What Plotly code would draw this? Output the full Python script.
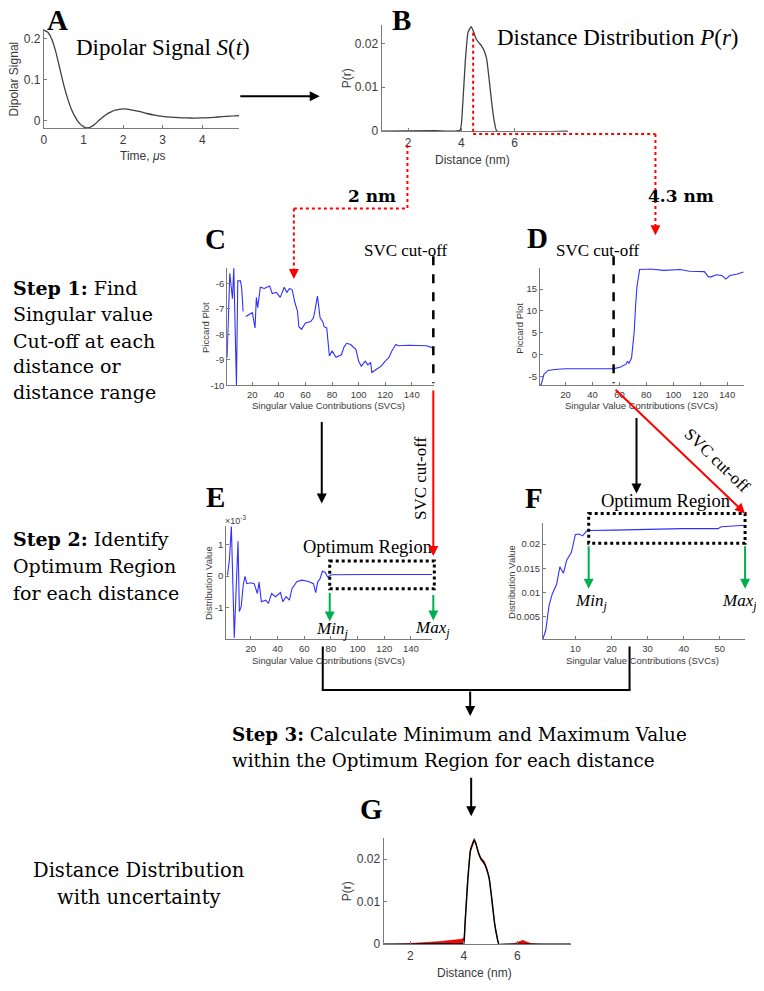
import plotly.graph_objects as go

# The page body has an 8px default margin, so the figure is drawn 8px in from the corner.
OFF = 8
W, H = 764 - OFF, 991 - OFF

# ---------------- data ----------------
# Panel A: dipolar signal S(t)
A_time = [0, 0.1, 0.2, 0.3, 0.4, 0.5, 0.6, 0.7, 0.8, 0.9, 1.0, 1.1, 1.2, 1.3, 1.4, 1.5,
          1.6, 1.7, 1.8, 1.9, 2.0, 2.1, 2.2, 2.4, 2.6, 2.8, 3.0, 3.2, 3.4, 3.6, 3.8, 4.0,
          4.2, 4.4, 4.6, 4.8, 4.93]
A_signal = [0.22, 0.215, 0.198, 0.168, 0.128, 0.088, 0.054, 0.027, 0.008, -0.006, -0.014,
            -0.017, -0.014, -0.007, 0.002, 0.010, 0.017, 0.022, 0.026, 0.028, 0.029, 0.0285,
            0.027, 0.023, 0.018, 0.014, 0.011, 0.009, 0.0078, 0.0072, 0.007, 0.0072, 0.0082,
            0.0095, 0.011, 0.012, 0.013]

# Panel B: distance distribution P(r)
B_r = [1.0, 3.0, 3.95, 4.05, 4.15, 4.25, 4.37, 4.45, 4.55, 4.65, 4.75, 4.85, 4.95, 5.05,
       5.15, 5.25, 5.33, 8.0]
B_p = [0, 0.0001, 0.0002, 0.006, 0.016, 0.0225, 0.0238, 0.0228, 0.0211, 0.0202, 0.0195,
       0.0184, 0.0165, 0.0115, 0.006, 0.0018, 0.0, 0.0]

# Panel C: Piccard plot at 2 nm
C_svc = [1, 3, 5, 6, 8, 9, 11, 12, 13, None, 15, 19, 20, 22, 23, 24, 26, 29, 33, 35, 38, 41,
         44, 46, 48, 50, 52, 54, 55, 57, 60, 64, 66, 67, 69, 71, 73, 74, 76, 78, 80, 83, 87,
         89, 91, 94, 98, 100, 102, 105, 107, 109, 110, 114, 117, 120, 123, 125, 128, 130,
         138, 151, 157]
C_val = [-8.9, -5.6, -6.6, -5.4, -10, -5.9, -5.9, -6.2, -7.1, None, -7.3, -7.2, -7.15,
         -7.75, -6.55, -6.95, -6.15, -6.2, -6.1, -6.4, -6.35, -6.55, -6.15, -6.35, -6.2,
         -6.25, -6.75, -7.1, -7.7, -7.8, -7.55, -7.5, -7.35, -7.1, -6.5, -7.35, -7.5, -7.7,
         -7.75, -8.85, -8.65, -8.9, -8.8, -8.5, -8.35, -8.4, -8.6, -9.05, -9.25, -9.05,
         -9.2, -9.1, -9.5, -9.35, -9.25, -9.05, -8.9, -8.65, -8.4, -8.45, -8.43, -8.45, -8.55]

# Panel D: Piccard plot at 4.3 nm
D_svc = [1, 2, 4, 7, 12, 20, 40, 56, 61, 65, 66, 67, 69, 71, 72, 73, 75, 83, 93, 105, 112,
         123, 126, 128, 132, 136, 139, 142, 147, 152]
D_val = [-7.0, -6.8, -4.5, -3.6, -3.4, -3.2, -3.2, -3.18, -2.8, -2.1, -1.5, -2.0, -0.75,
         5.3, 11.2, 15.5, 19.5, 19.6, 19.3, 19.5, 19.1, 19.0, 17.8, 17.8, 18.3, 18.1, 17.3,
         18.1, 18.4, 18.9]

# Panel E: distribution value vs SVCs at 2 nm
E_svc = [2.5, 4, 5.4, 6.4, 7.6, 8.9, 10.4, 11.4, 12.8, 14.3, 15.6, 17, 20, 22.5, 23.7, 24.9,
         26.2, 27.9, 31.1, 33.1, 35.6, 38.5, 42.2, 44, 46.4, 48.9, 50.9, 54.6, 58.3, 63.2,
         66.9, 68.6, 70.1, 71.9, 73.6, 75.6, 77.5, 80.5, 108, 130, 156]
E_val = [0.00002, 0.00054, 0.00157, 0.0, -0.00195, -0.0005, 0.0011, -0.00112, -0.00096,
         -0.00029, -0.00001, -0.00024, -0.00021, -0.00024, -0.00039, -0.00055, -0.00019,
         -0.00081, -0.00076, -0.00086, -0.00055, -0.00065, -0.00052, -0.00081, -0.00065,
         -0.00076, -0.00039, -0.00017, -0.00013, -0.00017, -0.00024, -0.00052, -0.00019,
         -0.00008, 0.00015, 0.00012, -0.00003, 0.00004, 0.00005, 0.00005, 0.00005]

# Panel F: distribution value vs SVCs at 4.3 nm
F_svc = [1, 1.8, 2.7, 3.6, 4.8, 5.7, 6.7, 7.6, 8.9, 10, 11, 12, 13.1, 14, 20.7, 30.1, 39.6,
         49.5, 50.4, 57]
F_val = [0.0004, 0.0022, 0.0073, 0.0097, 0.0117, 0.0153, 0.0140, 0.0167, 0.0183, 0.0220,
         0.0221, 0.0217, 0.0227, 0.0228, 0.0229, 0.0231, 0.0232, 0.0232, 0.0236, 0.0239]

# Panel G: distance distribution with uncertainty
G_r = [1.0, 2.0, 3.0, 3.9, 4.0, 4.05, 4.15, 4.25, 4.39, 4.45, 4.55, 4.65, 4.75, 4.85, 4.95,
       5.05, 5.15, 5.25, 5.31, 5.6, 5.9, 6.2, 6.5, 7.0, 8.0]
G_mean = [0, 0, 0.0001, 0.0001, 0.0002, 0.005, 0.015, 0.022, 0.0245, 0.0237, 0.0215, 0.0200,
          0.0192, 0.0178, 0.0155, 0.0105, 0.005, 0.0015, 0.0, 0, 0, 0, 0, 0, 0]
G_upper = [0, 0.0002, 0.0006, 0.0012, 0.0014, 0.0055, 0.0155, 0.0225, 0.0249, 0.0240, 0.0217,
           0.0203, 0.0197, 0.0182, 0.0157, 0.0107, 0.0052, 0.0016, 0.0, 0, 0.0002, 0.0009,
           0.0002, 0, 0]
G_lower = [0, 0, 0, 0, 0, 0.0048, 0.0148, 0.0218, 0.0242, 0.0235, 0.0213, 0.0198, 0.0189,
           0.0175, 0.0153, 0.0103, 0.0048, 0.0013, 0.0, 0, 0, 0, 0, 0, 0]

# ---------------- styling ----------------
SERIF = "Liberation Serif, Times New Roman, serif"
GEO = "DejaVu Serif, Georgia, serif"
SANS = "Liberation Sans, Arial, Helvetica, sans-serif"
AXC = "#7a7a7a"
TXT = "#3a3a3a"
BLUE = "#3030ff"
RED = "#ff0000"
GREEN = "#00b050"

fig = go.Figure()
layout = dict(width=W, height=H, margin=dict(l=0, r=0, t=0, b=0), paper_bgcolor="white",
              plot_bgcolor="rgba(0,0,0,0)", showlegend=False)


def PX(x):
    return (x - OFF) / W


def PY(y):
    return 1 - (y - OFF) / H


def P(x, y):
    return PX(x), PY(y)


def add_axes(i, x0, x1, ytop, ybot, xr, yr, xt, yt, fs, ytext=None):
    key = "" if i == 1 else str(i)
    common = dict(showline=True, linecolor=AXC, linewidth=1, ticks="inside", ticklen=3,
                  tickcolor=AXC, tickwidth=1, showgrid=False, zeroline=False,
                  tickfont=dict(family=SANS, size=fs, color=TXT))
    layout["xaxis" + key] = dict(domain=[PX(x0), PX(x1)], anchor="y" + key, range=xr,
                                 tickvals=xt, **common)
    ya = dict(domain=[PY(ybot), PY(ytop)], anchor="x" + key, range=yr, tickvals=yt,
              **common)
    if ytext is not None:
        ya["ticktext"] = ytext
    layout["yaxis" + key] = ya
    return "x" + key, "y" + key


ax = add_axes(1, 41, 237, 29.5, 129, [0, 4.93], [-0.0175, 0.222], [0, 1, 2, 3, 4],
              [0, 0.1, 0.2], 12, ["0", "0.1", "0.2"])
bx = add_axes(2, 380, 567, 25, 132, [1, 8], [0, 0.0242], [2, 4, 6], [0, 0.01, 0.02], 12,
              ["0", "0.01", "0.02"])
cx = add_axes(3, 225, 433, 270, 388, [1, 157], [-10, -5.4], [20, 40, 60, 80, 100, 120, 140],
              [-10, -9, -8, -7, -6], 9.5, ["-10", "-9", "-8", "-7", "-6"])
dx = add_axes(4, 539, 744, 270, 388, [1, 152.5], [-7, 19.8], [20, 40, 60, 80, 100, 120, 140],
              [-5, 0, 5, 10, 15], 9.5, ["-5", "0", "5", "10", "15"])
ex = add_axes(5, 224, 431, 530, 644, [1.5, 156], [-0.002, 0.00157],
              [20, 40, 60, 80, 100, 120, 140], [-0.001, 0, 0.001], 9.5, ["-1", "0", "1"])
fx = add_axes(6, 542, 745, 527, 644, [1, 57], [0.0003, 0.0243], [10, 20, 30, 40, 50],
              [0.005, 0.01, 0.015, 0.02], 9.5, ["0.005", "0.01", "0.015", "0.02"])
gx = add_axes(7, 382, 570, 844, 951, [1, 8], [0, 0.025], [2, 4, 6], [0, 0.01, 0.02], 12,
              ["0", "0.01", "0.02"])

fig.add_trace(go.Scatter(x=A_time, y=A_signal, xaxis=ax[0], yaxis=ax[1], mode="lines",
                         line=dict(color="#404040", width=1.3, shape="spline", smoothing=0.6)))
fig.add_trace(go.Scatter(x=B_r, y=B_p, xaxis=bx[0], yaxis=bx[1], mode="lines",
                         line=dict(color="#404040", width=1.3, shape="spline", smoothing=0.4)))
fig.add_trace(go.Scatter(x=C_svc, y=C_val, xaxis=cx[0], yaxis=cx[1], mode="lines",
                         line=dict(color=BLUE, width=1.1), connectgaps=False))
fig.add_trace(go.Scatter(x=D_svc, y=D_val, xaxis=dx[0], yaxis=dx[1], mode="lines",
                         line=dict(color=BLUE, width=1.1)))
fig.add_trace(go.Scatter(x=E_svc, y=E_val, xaxis=ex[0], yaxis=ex[1], mode="lines",
                         line=dict(color=BLUE, width=1.1)))
fig.add_trace(go.Scatter(x=F_svc, y=F_val, xaxis=fx[0], yaxis=fx[1], mode="lines",
                         line=dict(color=BLUE, width=1.1)))
fig.add_trace(go.Scatter(x=G_r, y=G_lower, xaxis=gx[0], yaxis=gx[1], mode="lines",
                         line=dict(color="rgba(0,0,0,0)", width=0, shape="spline", smoothing=0.3)))
fig.add_trace(go.Scatter(x=G_r, y=G_upper, xaxis=gx[0], yaxis=gx[1], mode="lines",
                         fill="tonexty", fillcolor=RED,
                         line=dict(color="#b00000", width=0.6, shape="spline", smoothing=0.3)))
fig.add_trace(go.Scatter(x=G_r, y=G_mean, xaxis=gx[0], yaxis=gx[1], mode="lines",
                         line=dict(color="black", width=1.5, shape="spline", smoothing=0.3)))

# ---------------- annotations ----------------
ann = []


def text(x, y, s, size, family=SERIF, color="black", xanchor="center", angle=0):
    px_, py_ = P(x, y)
    ann.append(dict(x=px_, y=py_, xref="paper", yref="paper", text=s, showarrow=False,
                    xanchor=xanchor, yanchor="middle", textangle=angle,
                    font=dict(family=family, size=size, color=color)))


def arrow(hx, hy, tx, ty, color, width=2, head=2, size=1.0):
    px_, py_ = P(hx, hy)
    ann.append(dict(x=px_, y=py_, xref="paper", yref="paper", text="", showarrow=True,
                    ax=tx - hx, ay=ty - hy, arrowhead=head, arrowsize=size,
                    arrowwidth=width, arrowcolor=color))


# panel letters
for lx, ly, L in [(55, 20, "A"), (400, 20, "B"), (213, 241, "C"), (537, 240, "D"),
                  (213, 501, "E"), (533, 502, "F"), (370, 815, "G")]:
    text(lx, ly, "<b>%s</b>" % L, 29)

# titles
text(71, 48, "Dipolar Signal <i>S</i>(<i>t</i>)", 23, xanchor="left")
text(494, 38, "Distance Distribution <i>P</i>(<i>r</i>)", 23, xanchor="left")

# axis titles
for x, y, s, fs in [(12, 79, "Dipolar Signal", 12), (346, 79, "P(r)", 12),
                    (203, 330, "Piccard Plot", 9.5), (519, 330, "Piccard Plot", 9.5),
                    (207, 587, "Distribution Value", 9.5), (511, 586, "Distribution Value", 9.5),
                    (345, 898, "P(r)", 12)]:
    text(x, y, s, fs, family=SANS, color=TXT, angle=-90)
for x, y, s, fs in [(140, 157, "Time, <i>μ</i>s", 12), (471, 161, "Distance (nm)", 12),
                    (327, 408, "Singular Value Contributions (SVCs)", 9.5),
                    (641, 408, "Singular Value Contributions (SVCs)", 9.5),
                    (327, 665, "Singular Value Contributions (SVCs)", 9.5),
                    (642, 665, "Singular Value Contributions (SVCs)", 9.5),
                    (473, 980, "Distance (nm)", 12)]:
    text(x, y, s, fs, family=SANS, color=TXT)
text(233, 524, "×10<sup>-3</sup>", 9, family=SANS, color=TXT)

# step texts
for y, s in [(290, "<b>Step 1:</b> Find"), (316, "Singular value"), (343, "Cut-off at each"),
             (369, "distance or"), (395, "distance range")]:
    text(8, y, s, 19, family=GEO, xanchor="left")
for y, s in [(543, "<b>Step 2:</b> Identify"), (570, "Optimum Region"),
             (597, "for each distance")]:
    text(8, y, s, 19, family=GEO, xanchor="left")
text(228, 740, "<b>Step 3:</b> Calculate Minimum and Maximum Value", 18.3, family=GEO,
     xanchor="left")
text(228, 766, "within the Optimum Region for each distance", 18.3, family=GEO, xanchor="left")
text(137, 877, "Distance Distribution", 19.5, family=GEO)
text(137, 904, "with uncertainty", 19.5, family=GEO)

# labels on the flow
text(370, 197, "<b>2 nm</b>", 17, family=GEO)
text(681, 197, "<b>4.3 nm</b>", 17, family=GEO)
text(405, 252, "SVC cut-off", 17)
text(597, 252, "SVC cut-off", 17)
text(419, 481, "SVC cut-off", 17, angle=-90)
text(717, 464, "SVC cut-off", 17, angle=44)
text(366, 551, "Optimum Region", 18.5)
text(665, 505, "Optimum Region", 18.5)
for x, y, s in [(330, 634, "<i>Min</i><sub><i>j</i></sub>"), (431, 633, "<i>Max</i><sub><i>j</i></sub>"),
                (590, 606, "<i>Min</i><sub><i>j</i></sub>"), (739, 606, "<i>Max</i><sub><i>j</i></sub>")]:
    text(x, y, s, 17)

# arrows
arrow(318, 97, 237, 97, "black")
arrow(292, 281, 292, 271, RED, width=2)
arrow(655, 237, 655, 227, RED, width=2)
arrow(320, 507, 320, 424, "black")
arrow(636, 497, 636, 420, "black")
arrow(432, 560, 432, 393, RED)
arrow(745, 517, 614, 392, RED)
arrow(328, 626, 328, 596, GREEN)
arrow(432, 625, 432, 598, GREEN)
arrow(588, 593, 588, 549, GREEN)
arrow(745, 593, 745, 549, GREEN)
arrow(469, 721, 469, 695, "black")
arrow(470, 822, 470, 782, "black")

# ---------------- shapes ----------------
shapes = []


def line(x0, y0, x1, y1, color, width=2, dash="solid"):
    a, b = P(x0, y0)
    c, d = P(x1, y1)
    shapes.append(dict(type="line", xref="paper", yref="paper", x0=a, y0=b, x1=c, y1=d,
                       line=dict(color=color, width=width, dash=dash)))


def rect(x0, y0, x1, y1):
    a, b = P(x0, y0)
    c, d = P(x1, y1)
    shapes.append(dict(type="rect", xref="paper", yref="paper", x0=a, y0=b, x1=c, y1=d,
                       line=dict(color="black", width=3, dash="dot")))


# red dotted guides from panel B
line(472, 33, 472, 135, RED, 2, "dot")
line(472, 135, 655, 135, RED, 2, "dot")
line(655, 135, 655, 231, RED, 2, "dot")
line(406, 146, 406, 210, RED, 2, "dot")
line(292, 210, 406, 210, RED, 2, "dot")
line(292, 210, 292, 275, RED, 2, "dot")
# SVC cut-off dashed lines
line(432, 258, 432, 386, "black", 2.5, "dash")
line(613, 258, 613, 386, "black", 2.5, "dash")
# optimum regions
rect(328, 565, 433, 593)
rect(588, 517, 745, 547)
# connectors to step 3
line(321, 651, 321, 695, "black", 2)
line(629, 651, 629, 695, "black", 2)
line(320, 695, 630, 695, "black", 2)

layout["annotations"] = ann
layout["shapes"] = shapes
fig.update_layout(**layout)
fig.write_html("out.html")
